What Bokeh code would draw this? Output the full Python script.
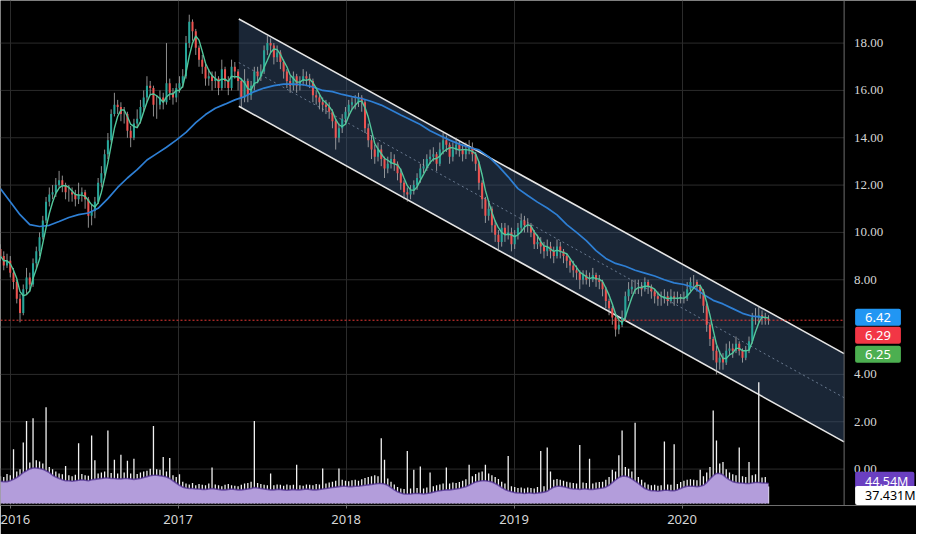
import numpy as np
import pandas as pd
from bokeh.plotting import figure
from bokeh.models import (ColumnDataSource, FixedTicker, Range1d, Span, Label)
from bokeh.embed import file_html
from bokeh.resources import INLINE

# ---------------- data ----------------
first_date = 2015.942          # first candle (decimal year)
last_date = 2020.515           # last candle (decimal year)
view_start, view_end = 2015.942, 2021.396
price_axis_x = 2020.965        # where the price scale begins
price_view = (-1.539, 19.80)
volume_view = (-4.26, 1102.0)

first_open = 9.3
close_a = [9.0, 8.6, 8.8, 8.3, 7.9, 7.2, 6.6, 7.6, 8.1, 7.8, 8.7, 9.2, 9.8, 10.5, 11.3,
           11.6, 11.7, 12.0, 12.2, 12.0, 11.7, 11.7, 11.6, 11.4, 11.6, 11.7, 11.4, 10.7, 10.9, 11.3,
           12.1, 12.5, 13.3, 13.9, 15.0, 15.4, 15.3, 15.0, 15.0, 14.3, 14.0, 14.6, 14.8, 15.3, 15.7,
           16.2, 16.1, 15.4, 15.4, 15.7, 15.5, 16.3, 15.9, 15.7, 16.1, 16.3, 16.6, 18.0, 18.9, 18.5,
           17.8, 17.3, 17.0, 16.5, 16.6, 16.4, 16.5, 16.1, 16.9, 16.4, 16.1, 17.0, 16.8, 16.4]
close_b = [15.7, 16.4, 15.8, 16.2, 16.8, 16.6, 16.8, 17.7, 18.0, 17.9, 17.4, 17.6, 17.2, 16.8, 16.4,
           16.2, 16.6, 16.2, 16.4, 16.6, 16.5, 16.4, 15.8, 15.7, 15.5, 15.4, 15.3, 15.1, 14.7, 14.0,
           14.4, 14.8, 15.1, 15.4, 15.5, 15.5, 15.7, 15.5, 14.4, 13.9, 13.5, 13.2, 13.5, 13.1, 12.7,
           12.9, 13.1, 12.9, 12.5, 12.1, 11.7, 11.6, 11.8, 12.0, 12.3, 12.7, 12.8, 13.1, 13.2, 13.3,
           12.9, 13.5, 13.9, 13.7, 13.2, 13.5, 13.7, 13.5, 13.3, 13.5, 13.6, 13.3, 12.9, 12.1, 11.4,
           10.7, 11.0, 10.3, 9.9, 9.6, 10.2, 9.9, 10.0]
close_c = [9.5, 9.9, 10.2, 10.5, 10.3, 10.3, 10.0, 9.5, 9.6, 9.4, 9.2, 9.4, 9.2, 9.0, 9.4,
           9.2, 9.0, 8.8, 8.6, 8.4, 8.3, 8.0, 8.2, 8.0, 8.0, 8.2, 8.0, 7.9, 7.6, 7.1,
           6.8, 6.4, 5.9, 6.1, 6.4, 7.3, 7.6, 7.7, 7.7, 7.7, 7.6, 7.9, 7.7, 7.5, 7.3,
           7.2, 7.2, 7.3, 7.1, 7.3, 7.2, 7.25, 7.2, 7.2, 7.6, 7.9, 7.9, 7.7, 7.5, 6.9,
           6.1, 5.5, 5.0, 4.5, 4.7, 4.5, 5.0, 5.1, 5.0, 5.3, 5.0, 4.7, 5.0, 5.4, 6.4,
           6.4, 6.5, 6.4, 6.35, 6.29]

high = [9.5, 9.2, 9.1, 9.0, 8.5, 8.0, 7.4, 7.8, 8.5, 8.3, 8.9, 9.4, 10.0, 10.7, 11.5,
        11.9, 12.0, 12.3, 12.6, 12.4, 12.1, 12.0, 11.9, 11.8, 12.1, 11.9, 11.8, 11.5, 11.2, 11.5,
        12.3, 12.8, 13.5, 14.2, 15.2, 15.9, 15.6, 15.5, 15.3, 15.1, 14.5, 14.8, 15.2, 15.6, 16.0,
        16.6, 16.4, 16.2, 15.8, 16.0, 15.9, 18.0, 16.5, 16.1, 16.3, 16.6, 16.9, 18.3, 19.2, 19.0,
        18.6, 17.9, 17.5, 17.2, 16.9, 16.8, 16.8, 16.6, 17.3, 17.0, 16.6, 17.3, 17.2, 16.9,
        16.5, 16.9, 16.5, 16.4, 17.0, 17.0, 17.1, 17.9, 18.3, 18.2, 18.0, 17.9, 17.7, 17.3, 16.9,
        16.6, 16.8, 16.7, 16.6, 16.9, 16.8, 16.7, 16.5, 16.0, 15.9, 15.7, 15.6, 15.5, 15.2, 14.8,
        14.6, 15.0, 15.3, 15.6, 15.7, 15.8, 15.9, 15.8, 15.6, 14.6, 14.1, 13.7, 13.8, 13.7, 13.2,
        13.2, 13.4, 13.3, 13.0, 12.7, 12.2, 11.9, 12.0, 12.2, 12.5, 12.9, 13.1, 13.3, 13.5, 13.6,
        13.4, 13.8, 14.2, 14.1, 13.8, 13.8, 14.0, 13.9, 13.7, 13.8, 13.9, 13.8, 13.4, 13.0, 12.2,
        11.5, 11.3, 11.1, 10.5, 10.1, 10.4, 10.4, 10.3,
        10.2, 10.1, 10.4, 10.8, 10.7, 10.6, 10.4, 10.1, 9.9, 9.8, 9.6, 9.7, 9.6, 9.4, 9.7,
        9.6, 9.3, 9.1, 8.9, 8.8, 8.6, 8.4, 8.4, 8.4, 8.3, 8.5, 8.3, 8.2, 8.0, 7.7,
        7.2, 6.9, 6.5, 6.4, 6.7, 7.5, 7.9, 8.0, 8.0, 8.0, 7.9, 8.1, 8.0, 7.8, 7.6,
        7.5, 7.5, 7.6, 7.5, 7.6, 7.5, 7.5, 7.4, 7.5, 7.9, 8.1, 8.2, 8.0, 7.8, 7.6,
        7.0, 6.2, 5.6, 5.2, 5.0, 4.9, 5.3, 5.4, 5.3, 5.6, 5.4, 5.1, 5.2, 5.6, 6.6,
        6.8, 6.9, 6.7, 6.6, 6.5]
low = [8.8, 8.4, 8.5, 8.1, 7.6, 7.0, 6.2, 6.5, 7.4, 7.5, 7.7, 8.5, 9.0, 9.7, 10.4,
       11.1, 11.4, 11.5, 11.9, 11.7, 11.4, 11.3, 11.3, 11.1, 11.2, 11.3, 11.0, 10.2, 10.3, 10.6,
       11.2, 11.9, 12.4, 13.1, 13.8, 14.9, 15.0, 14.7, 14.6, 14.0, 13.6, 13.9, 14.4, 14.6, 15.1,
       15.5, 15.8, 14.9, 14.8, 15.2, 15.2, 15.4, 15.6, 15.4, 15.5, 15.9, 16.1, 16.5, 17.8, 18.1,
       17.5, 17.0, 16.7, 16.2, 16.2, 16.0, 16.1, 15.8, 16.0, 16.1, 15.8, 16.0, 16.5, 16.0,
       15.3, 15.5, 15.5, 15.6, 16.0, 16.3, 16.4, 16.7, 17.5, 17.6, 17.1, 17.2, 16.9, 16.5, 16.1,
       15.9, 16.0, 15.9, 16.0, 16.2, 16.2, 16.1, 15.5, 15.4, 15.2, 15.1, 15.0, 14.8, 14.4, 13.5,
       13.8, 14.2, 14.6, 14.9, 15.2, 15.2, 15.3, 15.1, 14.2, 13.6, 13.1, 12.9, 13.0, 12.8, 12.3,
       12.5, 12.7, 12.6, 12.2, 11.8, 11.4, 11.3, 11.4, 11.6, 11.8, 12.1, 12.5, 12.6, 12.9, 13.0,
       12.6, 12.8, 13.3, 13.4, 12.9, 13.0, 13.3, 13.2, 13.0, 13.1, 13.3, 13.0, 12.6, 11.8, 11.0,
       10.4, 10.5, 10.0, 9.6, 9.2, 9.4, 9.6, 9.7,
       9.2, 9.3, 9.7, 10.0, 10.0, 10.0, 9.8, 9.3, 9.3, 9.1, 8.9, 9.0, 8.9, 8.7, 8.9,
       8.9, 8.7, 8.5, 8.3, 8.1, 8.0, 7.6, 7.8, 7.8, 7.7, 7.9, 7.7, 7.6, 7.3, 6.8,
       6.5, 6.1, 5.6, 5.7, 6.0, 6.3, 7.1, 7.4, 7.4, 7.4, 7.3, 7.5, 7.4, 7.2, 7.0,
       6.9, 6.9, 7.0, 6.9, 7.0, 6.9, 7.0, 7.0, 7.0, 7.1, 7.5, 7.7, 7.5, 7.2, 6.6,
       5.8, 5.2, 4.6, 4.0, 4.2, 4.2, 4.4, 4.8, 4.7, 4.9, 4.8, 4.5, 4.6, 4.9, 5.3,
       6.1, 6.2, 6.1, 6.1, 6.1]

volume = [60, 58, 65, 62, 119, 70, 75,
          134, 181, 90, 187, 95, 92, 88, 211, 80,
          75, 70, 66, 64, 82, 62, 60, 63, 132, 65, 62, 61, 149, 95, 66,
          68, 70, 160, 67, 96, 66, 107, 68, 94, 66, 98, 65, 68, 70,
          72, 76, 170, 75, 74, 102, 70, 100,
          62, 58, 64, 48,
          44, 42, 45, 40, 43, 41, 40, 44, 79, 42, 40, 38, 41, 43, 40, 39, 38, 41, 44, 45, 48, 181,
          45, 43, 41, 40, 66, 40, 42, 41, 39, 42, 40, 41, 85, 40, 39, 42, 41, 40, 43, 42, 77, 44,
          46, 48,
          50, 77, 52, 50, 49, 51, 52, 50, 53, 56, 58, 60,
          62, 60, 143, 96, 55,
          48, 42, 36, 33, 32, 115, 33, 74, 34, 81, 33, 35, 68,
          38, 40, 42, 44, 79, 44, 46, 45, 47, 50, 53,
          85, 60, 65, 68, 70, 85, 66, 62, 58, 54,
          48, 44, 104, 38, 36, 34, 35, 33, 35, 34, 33, 36, 115, 38, 123,
          70, 52, 54, 52, 50, 48,
          46, 45, 44, 128, 46, 45, 98, 44, 46, 47, 48, 52, 58,
          74, 70, 106, 160, 80, 76, 70,
          177, 58, 52, 46, 42,
          40, 41, 39, 40, 136, 42, 41, 130, 43,
          47, 50, 52, 53, 52, 51, 74, 60,
          68, 80, 204, 138, 88, 91,
          75, 68, 64, 62, 123, 60, 58, 91, 62, 64, 266, 57, 58, 37.431]
volume_ma = [49, 48, 48, 50, 53, 57, 62,
             68, 72, 76, 78, 78, 77, 75, 72, 68,
             62, 58, 55, 52, 50, 50, 49, 50, 51, 52, 51, 50, 52, 53, 54,
             55, 56, 56, 55, 55, 54, 54, 55, 55, 54, 53, 54, 55, 57,
             59, 61, 62, 62, 61, 60, 58, 55,
             50, 45, 40, 36,
             34, 33, 33, 32, 32, 31, 31, 32, 33, 32, 31, 30, 30, 31, 32, 31, 30, 30, 31, 32, 33, 35,
             34, 33, 32, 31, 30, 30, 31, 31, 30, 29, 30, 31, 30, 30, 31, 32, 31, 30, 30, 31, 32, 33,
             34, 35,
             36, 37, 38, 38, 37, 37, 38, 38, 39, 40, 41, 42,
             43, 44, 44, 43, 40,
             35, 30, 26, 23, 21, 21, 21, 22, 22, 22, 21, 22, 23,
             25, 27, 28, 29, 30, 30, 31, 32, 33, 35, 37,
             40, 44, 47, 49, 50, 50, 49, 47, 44, 40,
             35, 31, 28, 26, 24, 23, 23, 22, 23, 23, 22, 23, 24, 25, 27,
             32, 36, 38, 38, 37, 35,
             33, 32, 32, 31, 32, 32, 31, 31, 32, 33, 34, 36, 40,
             46, 52, 57, 60, 60, 58, 54,
             49, 44, 38, 33, 30,
             28, 28, 27, 28, 29, 29, 28, 28, 30,
             33, 36, 38, 38, 38, 37, 38, 40,
             46, 54, 61, 66, 66, 63,
             57, 52, 48, 46, 45, 45, 44, 44, 45, 46, 46, 45, 45, 44.54]

# long moving average (blue), sampled every 3rd candle
ma_long_step = 3
ma_long = [11.85, 11.3, 10.75, 10.33, 10.25, 10.3, 10.46, 10.63, 10.75, 10.82,
           11.02, 11.43, 11.9, 12.3, 12.65, 13.06, 13.33, 13.6, 13.9, 14.23,
           14.64, 14.98, 15.25, 15.42, 15.6, 15.74, 15.95, 16.1, 16.2, 16.27,
           16.27, 16.24, 16.15, 16.0, 15.95, 15.83, 15.74, 15.66, 15.53, 15.38,
           15.17, 14.96, 14.76, 14.56, 14.3, 14.1, 13.9, 13.73, 13.6, 13.49,
           13.2, 12.8, 12.35, 11.85, 11.56, 11.28, 11.03, 10.74, 10.33, 10.0,
           9.65, 9.23, 8.9, 8.69, 8.57, 8.4, 8.28, 8.16, 8.0, 7.87,
           7.8, 7.67, 7.38, 7.13, 6.98, 6.78, 6.58, 6.46, 6.42]
ma_short_window = 4
ma_short_last = 6.25

# parallel channel drawn on the chart
channel_x = [2017.361, 2020.965]
channel_upper = [19.02, 4.88]
channel_lower = [15.33, 1.15]

year_ticks = [2016, 2017, 2018, 2019, 2020]
price_ticks = [0, 2, 4, 6, 8, 10, 12, 14, 16, 18]
price_labels_hidden = [6]      # covered by the price tags in the picture

# ---------------- build ----------------
close = close_a + close_b + close_c
n = len(close)
x = np.linspace(first_date, last_date, n)
opens = [first_open] + close[:-1]
step = x[1] - x[0]

df = pd.DataFrame(dict(x=x, open=opens, close=close, high=high, low=low,
                       volume=volume, volume_ma=volume_ma))
df["top"] = df[["open", "close"]].max(axis=1)
df["bottom"] = df[["open", "close"]].min(axis=1)
df["ma_short"] = df["close"].rolling(ma_short_window, min_periods=1).mean()
up = ColumnDataSource(df[df.close >= df.open])
down = ColumnDataSource(df[df.close < df.open])
src = ColumnDataSource(df)
ma_src = ColumnDataSource(dict(x=x[::ma_long_step][:len(ma_long)], y=ma_long))

FONT = "Noto Sans"
AXIS_GREY = "#6e6e6e"
GRID = "#2b2b2b"
p = figure(width=916, height=534, output_backend="svg", toolbar_location=None,
           x_range=Range1d(view_start, view_end),
           y_range=Range1d(*price_view),
           min_border_left=0, min_border_top=0, min_border_right=0, min_border_bottom=29)
p.extra_y_ranges = {"vol": Range1d(*volume_view)}
p.background_fill_color = "#000000"
p.border_fill_color = "#000000"
p.outline_line_color = None
p.yaxis.visible = False

xa = p.xaxis[0]
xa.ticker = FixedTicker(ticks=year_ticks)
xa.axis_line_color = AXIS_GREY
xa.major_tick_line_color = AXIS_GREY
xa.minor_tick_line_color = None
xa.major_tick_out = 3
xa.major_tick_in = 0
xa.major_label_standoff = 6
xa.major_label_text_color = "#d6d6d6"
xa.major_label_text_font = FONT
xa.major_label_text_font_size = "13px"

p.xgrid.ticker = FixedTicker(ticks=year_ticks)
p.xgrid.grid_line_color = GRID
p.ygrid.visible = False

# horizontal price grid, stopping at the price scale
p.segment(x0=[view_start] * len(price_ticks), y0=price_ticks,
          x1=[price_axis_x] * len(price_ticks), y1=price_ticks,
          line_color=GRID, line_width=1)

# channel
p.varea(x=channel_x, y1=channel_lower, y2=channel_upper,
        fill_color="#3a5578", fill_alpha=0.45)
p.line(channel_x, channel_upper, line_color="#e6e6e6", line_width=1.6)
p.line(channel_x, channel_lower, line_color="#e6e6e6", line_width=1.6)
p.line(channel_x, [(a + b) / 2 for a, b in zip(channel_upper, channel_lower)],
       line_color="#6a7a90", line_width=1, line_dash="2 3")

# volume
p.vbar(x="x", top="volume", bottom=0, width=step * 0.4, source=src,
       fill_color="#f2f2f2", line_color=None, y_range_name="vol")
p.varea(x="x", y1=0, y2="volume_ma", source=src, fill_color="#b39ddb",
        y_range_name="vol")
p.line("x", "volume_ma", source=src, line_color="#4b2b8f", line_width=1.6,
       line_alpha=0.7, y_range_name="vol")

# candles
for s, col in ((up, "#26a69a"), (down, "#ef5350")):
    p.segment("x", "high", "x", "low", source=s, line_color="#bdbdbd",
              line_alpha=0.75, line_width=1)
    p.vbar(x="x", top="top", bottom="bottom", width=step * 0.62, source=s,
           fill_color=col, line_color=None)

# moving averages
p.line("x", "y", source=ma_src, line_color="#2e7fd4", line_width=1.7)
p.line("x", "ma_short", source=src, line_color="#52c79b", line_width=1.4)

# last price line
p.segment(x0=[view_start], y0=[close[-1]], x1=[price_axis_x], y1=[close[-1]],
          line_color="#e53935", line_dash="2 2", line_width=1)

# price scale: line and tick labels
p.add_layout(Span(location=price_axis_x, dimension="height",
                  line_color=AXIS_GREY, line_width=1))
shown = [t for t in price_ticks if t not in price_labels_hidden]
p.text(x=[price_axis_x] * len(shown), y=shown,
       text=[f"{t:.2f}" for t in shown], x_offset=10,
       text_font=FONT, text_font_size="13px", text_color="#d6d6d6",
       text_baseline="middle", text_align="left")

# price / volume tags on the right scale
def tag(text, y, fill, text_color="#ffffff", y_offset=0, rng="default",
        pad_v=4, pad_r=10, size="13px"):
    p.add_layout(Label(x=price_axis_x, y=y, x_offset=11, y_offset=y_offset, text=text,
                       y_range_name=rng, text_font=FONT, text_font_size=size,
                       text_color=text_color, text_baseline="middle", text_align="left",
                       background_fill_color=fill, border_radius=2,
                       padding=dict(left=10, right=pad_r, top=pad_v, bottom=pad_v)))

tag(f"{ma_long[-1]:.2f}", ma_long[-1], "#2196f3")
tag(f"{close[-1]:.2f}", close[-1], "#f23645", y_offset=-15)
tag(f"{ma_short_last:.2f}", ma_short_last, "#4caf50", y_offset=-33)
tag(f"{volume_ma[-1]:.2f}M", volume_ma[-1], "#6a3fc1", rng="vol", y_offset=2,
    pad_v=1, pad_r=6, size="12.5px")
tag(f"{volume[-1]:.3f}M", volume[-1], "#ffffff", text_color="#000000",
    y_offset=-9, rng="vol", pad_v=1, pad_r=5, size="12.5px")

open("out.html", "w").write(file_html(p, INLINE))
